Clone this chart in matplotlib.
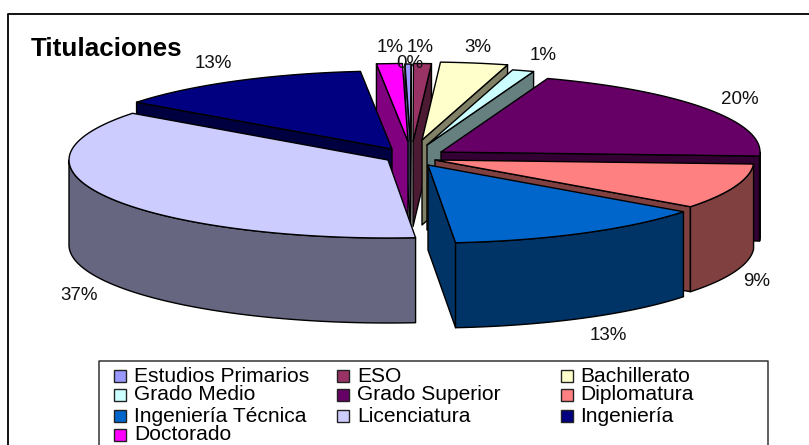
"""Exploded 3D-style pie of Titulaciones with a boxed legend."""

import numpy as np
import matplotlib
matplotlib.use('Agg')
import matplotlib.pyplot as plt
from matplotlib.patches import Polygon, Rectangle

CATEGORIES = ['Estudios Primarios', 'ESO', 'Bachillerato', 'Grado Medio', 'Grado Superior',
              'Diplomatura', 'Ingeniería Técnica', 'Licenciatura', 'Ingeniería', 'Doctorado']
PERCENT = [0.3, 0.9, 3.4, 1.1, 20.4, 9.4, 13.4, 36.6, 13.2, 1.3]
COLORS = ['#9999FF', '#993366', '#FFFFCC', '#CCFFFF', '#660066',
          '#FF8080', '#0066CC', '#CCCCFF', '#000080', '#FF00FF']

# pie geometry, in figure pixels
CENTER = (415, 150)
RX, RY = 319, 78
DEPTH = 85
START_ANGLE = -1
EXPLODE_DX = [-4.5, -2, 7, 12, 26, 20, 13, -27, -23, -7]
EXPLODE_DY = [-8, -8.5, -10, -5, 2, 10, 15, 10, -1, -8.5]

LABEL_X = [410, 420, 478, 543, 740, 757, 608, 79, 213, 390]
LABEL_Y = [63, 48, 47, 55, 100, 281, 336, 296, 64, 47]

LEGEND_ROW = [0, 1, 2, 3, 0, 1, 2, 0, 1, 2]
LEGEND_COL = [0, 0, 0, 0, 1, 1, 1, 2, 2, 2]
LEGEND_ORDER = [0, 3, 6, 9, 1, 4, 7, 2, 5, 8]

plt.rcParams['font.family'] = ['Liberation Sans', 'DejaVu Sans']

fig = plt.figure(figsize=(8.09, 4.45), dpi=100)
ax = fig.add_axes([0, 0, 1, 1])
ax.set_xlim(0, 809)
ax.set_ylim(445, 0)
ax.axis('off')


def point(apex, deg):
    t = np.radians(deg)
    return np.array([apex[0] + RX * np.sin(t), apex[1] - RY * np.cos(t)])


def shade(hex_color):
    return tuple(c * 0.5 for c in matplotlib.colors.to_rgb(hex_color))


def add_poly(pts, color, zorder):
    ax.add_patch(Polygon(pts, closed=True, facecolor=color, edgecolor='black',
                         linewidth=1.0, joinstyle='round', zorder=zorder))


def faces_viewer(apex, edge, mid):
    # a cut face shows when the slice body lies above the edge line on screen
    if abs(edge[0] - apex[0]) < 1e-6:
        return False
    line_y = apex[1] + (mid[0] - apex[0]) * (edge[1] - apex[1]) / (edge[0] - apex[0])
    return mid[1] < line_y


angles = START_ANGLE + 360 * np.cumsum([0] + PERCENT) / sum(PERCENT)
down = np.array([0, DEPTH])

slices = []
for i in range(len(PERCENT)):
    a0, a1 = angles[i], angles[i + 1]
    mid = (a0 + a1) / 2
    apex = np.array([CENTER[0] + EXPLODE_DX[i], CENTER[1] + EXPLODE_DY[i]])
    slices.append((i, a0, a1, mid, apex))

# paint from the back of the pie to the front
slices.sort(key=lambda s: -np.cos(np.radians(s[3])))

for z, (i, a0, a1, mid, apex) in enumerate(slices):
    base = z * 10
    col = COLORS[i]
    dark = shade(col)
    arc = np.array([point(apex, d) for d in np.linspace(a0, a1, 80)])
    mid_pt = point(apex, mid)

    for edge in (arc[0], arc[-1]):
        if faces_viewer(apex, edge, mid_pt):
            add_poly([apex, edge, edge + down, apex + down], dark, base + 1)

    lo, hi = max(a0, 90), min(a1, 270)
    if hi > lo:
        wall = np.array([point(apex, d) for d in np.linspace(lo, hi, 80)])
        add_poly(np.vstack([wall, (wall + down)[::-1]]), dark, base + 2)

    add_poly(np.vstack([[apex], arc]), col, base + 3)

for value, x, y in zip(PERCENT, LABEL_X, LABEL_Y):
    ax.text(x, y, f'{value:.0f}%', fontsize=13.5, color='#111111',
            ha='center', va='center', zorder=500)

ax.text(31, 49, 'Titulaciones', fontsize=18.7, fontweight='bold',
        ha='left', va='center', zorder=500)

# chart frame: only the top and left sides fall inside the figure
ax.plot([8, 8, 815], [450, 14, 14], color='#111111', lw=1.4, zorder=400)
ax.plot([99, 99, 768, 768], [450, 361, 361, 450], color='#333333', lw=1.1, zorder=401)

COL_X = [114, 337, 561]
TEXT_X = [134, 357, 580]
ROW_Y = [376, 395, 416, 435]
for idx, row, col_idx in zip(LEGEND_ORDER, LEGEND_ROW, LEGEND_COL):
    x, y = COL_X[col_idx], ROW_Y[row]
    ax.add_patch(Rectangle((x, y - 6), 12, 12, facecolor=COLORS[idx], edgecolor='#222222',
                           linewidth=1.0, zorder=402))
    ax.text(TEXT_X[col_idx], y, CATEGORIES[idx], fontsize=15.1, ha='left', va='center', zorder=402)

fig.savefig('out.png', dpi=100)
